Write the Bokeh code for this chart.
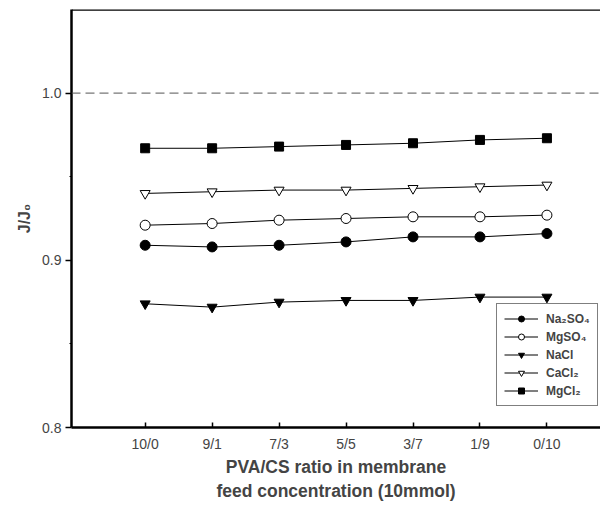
from bokeh.plotting import figure
from bokeh.models import FixedTicker, Span, Legend, LegendItem, Range1d
from bokeh.embed import file_html
from bokeh.resources import INLINE

ratios = ["10/0", "9/1", "7/3", "5/5", "3/7", "1/9", "0/10"]
na2so4 = [0.909, 0.908, 0.909, 0.911, 0.914, 0.914, 0.916]
mgso4 = [0.921, 0.922, 0.924, 0.925, 0.926, 0.926, 0.927]
nacl = [0.874, 0.872, 0.875, 0.876, 0.876, 0.878, 0.878]
cacl2 = [0.940, 0.941, 0.942, 0.942, 0.943, 0.944, 0.945]
mgcl2 = [0.967, 0.967, 0.968, 0.969, 0.970, 0.972, 0.973]
y_ticks = [0.8, 0.9, 1.0]
x = list(range(len(ratios)))

p = figure(width=600, height=503, output_backend="svg", toolbar_location=None,
           x_range=Range1d(-1.1, 6.8), y_range=Range1d(0.8, 1.05),
           min_border_left=71, min_border_top=9, min_border_right=0, min_border_bottom=1)
p.outline_line_color = None
p.grid.visible = False
p.background_fill_color = "white"

ref = Span(location=1.0, dimension="width", line_color="#555555", line_dash="9 5", line_width=1)
p.add_layout(ref)
top = Span(location=1.05, dimension="width", line_color="black", line_width=2.5)
p.add_layout(top)

font = "Liberation Sans"
p.xaxis.ticker = FixedTicker(ticks=x)
p.xaxis.major_label_overrides = {i: r for i, r in enumerate(ratios)}
p.xaxis.major_tick_in = 5
p.xaxis.major_tick_out = 0
p.xaxis.minor_tick_line_color = None
p.xaxis.axis_line_width = 2.5
p.xaxis.major_tick_line_width = 1.5
p.xaxis.major_label_text_font = font
p.xaxis.major_label_text_font_size = "14px"
p.xaxis.major_label_standoff = 8
p.xaxis.axis_label = "PVA/CS ratio in membrane\nfeed concentration (10mmol)"
p.xaxis.axis_label_text_font = font
p.xaxis.axis_label_text_font_style = "bold"
p.xaxis.axis_label_text_font_size = "17.5px"
p.xaxis.axis_label_standoff = 2

p.yaxis.ticker = FixedTicker(ticks=y_ticks, minor_ticks=[0.85, 0.95])
p.yaxis.major_label_overrides = {0.8: "0.8", 0.9: "0.9", 1.0: "1.0"}
p.yaxis.major_tick_in = 0
p.yaxis.major_tick_out = 6
p.yaxis.minor_tick_in = 0
p.yaxis.minor_tick_out = 2
p.yaxis.axis_line_width = 2.5
p.yaxis.major_tick_line_width = 1.5
p.yaxis.major_label_text_font = font
p.yaxis.major_label_text_font_size = "14px"
p.yaxis.major_label_standoff = 4
p.yaxis.axis_label = "J/J₀"
p.yaxis.axis_label_text_font = font
p.yaxis.axis_label_text_font_style = "bold"
p.yaxis.axis_label_text_font_size = "16px"
p.yaxis.axis_label_standoff = 6

series = [
    ("Na₂SO₄", na2so4, "circle", "black", 10),
    ("MgSO₄", mgso4, "circle", "white", 10),
    ("NaCl", nacl, "inverted_triangle", "black", 10),
    ("CaCl₂", cacl2, "inverted_triangle", "white", 10),
    ("MgCl₂", mgcl2, "square", "black", 9),
]
items = []
for name, ys, marker, fill, size in series:
    l = p.line(x, ys, line_color="black", line_width=1)
    s = p.scatter(x, ys, marker=marker, size=size, fill_color=fill, line_color="black", line_width=1)
    items.append(LegendItem(label=name, renderers=[l, s]))

legend = Legend(items=items, location=(425, 21), border_line_color="black", border_line_width=1,
                label_text_font=font, label_text_font_style="bold", label_text_font_size="12px",
                glyph_width=34, glyph_height=15, spacing=3, padding=7, label_standoff=8,
                background_fill_color="white", background_fill_alpha=1)
p.add_layout(legend)

open("out.html", "w").write(file_html(p, INLINE))
